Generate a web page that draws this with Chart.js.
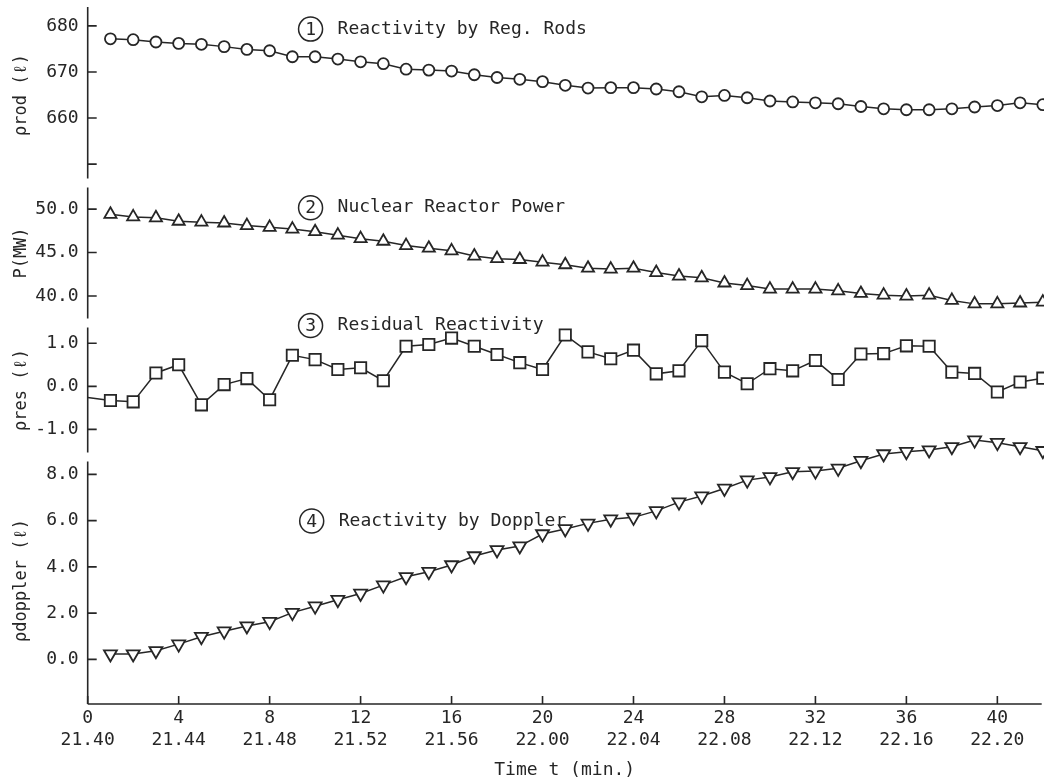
<!DOCTYPE html>
<html>
<head>
<meta charset="utf-8">
<script src="https://cdn.jsdelivr.net/npm/chart.js@4.4.1/dist/chart.umd.min.js"></script>
<style>
  html, body { margin: 0; padding: 0; background: #fff; }
</style>
</head>
<body>
<canvas id="reactorChart" width="1044" height="781"></canvas>
<script>
// time since start of run, minutes
const minutes = [1, 2, 3, 4, 5, 6, 7, 8, 9, 10, 11, 12, 13, 14, 15, 16, 17, 18, 19, 20, 21,
  22, 23, 24, 25, 26, 27, 28, 29, 30, 31, 32, 33, 34, 35, 36, 37, 38, 39, 40, 41, 42];

// (1) reactivity by regulating rods
const rodValues = [677.2, 677.0, 676.5, 676.2, 676.0, 675.5, 674.9, 674.6, 673.3, 673.3, 672.8,
  672.2, 671.8, 670.6, 670.4, 670.2, 669.4, 668.8, 668.4, 667.9, 667.1, 666.5, 666.6, 666.6,
  666.3, 665.7, 664.6, 664.9, 664.4, 663.7, 663.5, 663.3, 663.1, 662.5, 662.0, 661.8, 661.8,
  662.0, 662.4, 662.7, 663.3, 662.9];

// (2) nuclear reactor power, MW
const powerValues = [49.4, 49.1, 49.0, 48.6, 48.5, 48.4, 48.1, 47.9, 47.7, 47.4, 47.0, 46.6,
  46.3, 45.8, 45.5, 45.2, 44.6, 44.3, 44.2, 43.9, 43.6, 43.2, 43.1, 43.2, 42.7, 42.3, 42.1,
  41.5, 41.2, 40.8, 40.8, 40.8, 40.6, 40.3, 40.1, 40.0, 40.1, 39.5, 39.1, 39.1, 39.2, 39.3];

// (3) residual reactivity; the curve starts at t = 0 without a marker
const residualStart = -0.26;
const residualValues = [-0.33, -0.36, 0.31, 0.50, -0.43, 0.04, 0.18, -0.31, 0.72, 0.62, 0.39,
  0.43, 0.13, 0.93, 0.97, 1.12, 0.93, 0.74, 0.55, 0.39, 1.19, 0.80, 0.64, 0.84, 0.29, 0.36,
  1.06, 0.33, 0.06, 0.41, 0.36, 0.60, 0.16, 0.75, 0.76, 0.94, 0.93, 0.33, 0.30, -0.13, 0.10, 0.19];

// (4) reactivity by doppler
const dopplerValues = [0.23, 0.23, 0.37, 0.66, 0.98, 1.22, 1.44, 1.63, 2.02, 2.30, 2.58, 2.85,
  3.21, 3.57, 3.79, 4.08, 4.47, 4.73, 4.90, 5.42, 5.64, 5.88, 6.06, 6.14, 6.42, 6.80, 7.06,
  7.39, 7.75, 7.89, 8.11, 8.14, 8.26, 8.59, 8.88, 8.98, 9.05, 9.19, 9.48, 9.37, 9.19, 9.02];

// tick labels
const xTicks = [0, 4, 8, 12, 16, 20, 24, 28, 32, 36, 40];
const clockLabels = ['21.40', '21.44', '21.48', '21.52', '21.56', '22.00', '22.04', '22.08',
  '22.12', '22.16', '22.20'];
const rodTicks = [650, 660, 670, 680];
const rodTickText = ['', '660', '670', '680'];
const powerTicks = [40, 45, 50];
const residualTicks = [-1, 0, 1];
const dopplerTicks = [0, 2, 4, 6, 8];

const INK = '#262626';
const MONO = '"DejaVu Sans Mono", "Liberation Mono", monospace';

const pts = (vals) => vals.map((v, i) => ({ x: minutes[i], y: v }));

// draws axis lines with small gaps between panels, and inward tick marks
const axisMarks = {
  id: 'axisMarks',
  beforeDatasetsDraw(chart) {
    const { ctx, chartArea: area } = chart;
    const panels = ['yRod', 'yPower', 'yRes', 'yDoppler'];
    ctx.save();
    ctx.strokeStyle = INK;
    ctx.lineWidth = 1.6;
    panels.forEach((id, i) => {
      const s = chart.scales[id];
      const top = s.top + (i === 0 ? 0 : 4.5);
      const bottom = s.bottom - (i === panels.length - 1 ? 0 : 4.5);
      ctx.beginPath();
      ctx.moveTo(area.left, top);
      ctx.lineTo(area.left, bottom);
      s.ticks.forEach(t => {
        const y = s.getPixelForValue(t.value);
        ctx.moveTo(area.left, y);
        ctx.lineTo(area.left + 9, y);
      });
      ctx.stroke();
    });
    const xs = chart.scales.x;
    ctx.beginPath();
    ctx.moveTo(area.left, area.bottom);
    ctx.lineTo(area.right, area.bottom);
    xs.ticks.forEach(t => {
      const x = xs.getPixelForValue(t.value);
      ctx.moveTo(x, area.bottom);
      ctx.lineTo(x, area.bottom - 8);
    });
    ctx.stroke();
    ctx.restore();
  }
};

// circled numbers + captions for each panel
const notes = [
  { mark: '1', text: 'Reactivity by Reg. Rods', axis: 'yRod', t: 9.8, v: 679.3 },
  { mark: '2', text: 'Nuclear Reactor Power', axis: 'yPower', t: 9.8, v: 50.15 },
  { mark: '3', text: 'Residual Reactivity', axis: 'yRes', t: 9.8, v: 1.41 },
  { mark: '4', text: 'Reactivity by Doppler', axis: 'yDoppler', t: 9.85, v: 5.98 }
];
const captions = {
  id: 'captions',
  afterDatasetsDraw(chart) {
    const ctx = chart.ctx;
    ctx.save();
    ctx.strokeStyle = INK;
    ctx.fillStyle = INK;
    ctx.lineWidth = 1.5;
    ctx.font = '18px ' + MONO;
    ctx.textBaseline = 'middle';
    notes.forEach(n => {
      const x = chart.scales.x.getPixelForValue(n.t);
      const y = chart.scales[n.axis].getPixelForValue(n.v);
      ctx.beginPath();
      ctx.arc(x, y, 12, 0, Math.PI * 2);
      ctx.stroke();
      ctx.textAlign = 'center';
      ctx.fillText(n.mark, x, y + 1);
      ctx.textAlign = 'left';
      ctx.fillText(n.text, x + 27, y);
    });
    ctx.restore();
  }
};

const lineStyle = {
  borderColor: INK,
  borderWidth: 1.5,
  pointBorderColor: INK,
  pointBackgroundColor: '#fff',
  pointBorderWidth: 1.8,
  tension: 0,
  clip: false
};

function panelAxis(title, min, max, tickList, weight, stackWeight, fmt) {
  return {
    type: 'linear',
    position: 'left',
    stack: 'panels',
    stackWeight: stackWeight,
    weight: weight,
    min: min,
    max: max,
    grid: { display: false, drawTicks: false },
    border: { display: false },
    title: {
      display: true,
      text: title,
      color: INK,
      font: { family: MONO, size: 17 },
      padding: { top: 9, bottom: 0 }
    },
    ticks: {
      color: INK,
      padding: 9,
      font: { family: MONO, size: 18 },
      callback: fmt
    },
    afterBuildTicks: (s) => { s.ticks = tickList.map(v => ({ value: v })); },
    afterFit: (s) => {
      s.width = 85.7;
      s.paddingTop = 0;
      s.paddingBottom = 0;
    }
  };
}

new Chart(document.getElementById('reactorChart'), {
  type: 'line',
  data: {
    datasets: [
      Object.assign({ label: 'rod', data: pts(rodValues), yAxisID: 'yRod',
        pointStyle: 'circle', pointRadius: 5.5 }, lineStyle),
      Object.assign({ label: 'power', data: pts(powerValues), yAxisID: 'yPower',
        pointStyle: 'triangle', pointRadius: 7 }, lineStyle),
      Object.assign({ label: 'residual',
        data: [{ x: 0, y: residualStart }].concat(pts(residualValues)), yAxisID: 'yRes',
        pointStyle: 'rect', pointRadius: (c) => (c.dataIndex === 0 ? 0 : 8) }, lineStyle),
      Object.assign({ label: 'doppler', data: pts(dopplerValues), yAxisID: 'yDoppler',
        pointStyle: 'triangle', pointRotation: 180, pointRadius: 7.5 }, lineStyle)
    ]
  },
  options: {
    responsive: false,
    animation: false,
    events: [],
    layout: { autoPadding: false, padding: { top: 7, left: 2, right: 2.3, bottom: 0 } },
    plugins: { legend: { display: false }, tooltip: { enabled: false } },
    scales: {
      x: {
        type: 'linear',
        min: 0,
        max: 41.95,
        grid: { display: false, drawTicks: false },
        border: { display: false },
        title: {
          display: true,
          text: 'Time t (min.)',
          color: INK,
          font: { family: MONO, size: 18 },
          padding: { top: 0, bottom: 0 }
        },
        ticks: {
          color: INK,
          padding: 3.5,
          maxRotation: 0,
          autoSkip: false,
          font: { family: MONO, size: 18 },
          callback: (v, i) => [String(v), clockLabels[i]]
        },
        afterBuildTicks: (s) => { s.ticks = xTicks.map(v => ({ value: v })); },
        afterFit: (s) => {
          s.height = 77;
          s.paddingLeft = 0;
          s.paddingRight = 0;
        }
      },
      yDoppler: panelAxis('\u03c1doppler (\u2113)', -1.93, 8.75, dopplerTicks, 1, 247,
        (v) => v.toFixed(1)),
      yRes: panelAxis('\u03c1res (\u2113)', -1.64, 1.47, residualTicks, 2, 134,
        (v) => v.toFixed(1)),
      yPower: panelAxis('P(MW)', 36.9, 53.0, powerTicks, 3, 140,
        (v) => v.toFixed(1)),
      yRod: panelAxis('\u03c1rod (\u2113)', 645.9, 684.1, rodTicks, 4, 176,
        (v, i) => rodTickText[i])
    }
  },
  plugins: [axisMarks, captions]
});
</script>
</body>
</html>
